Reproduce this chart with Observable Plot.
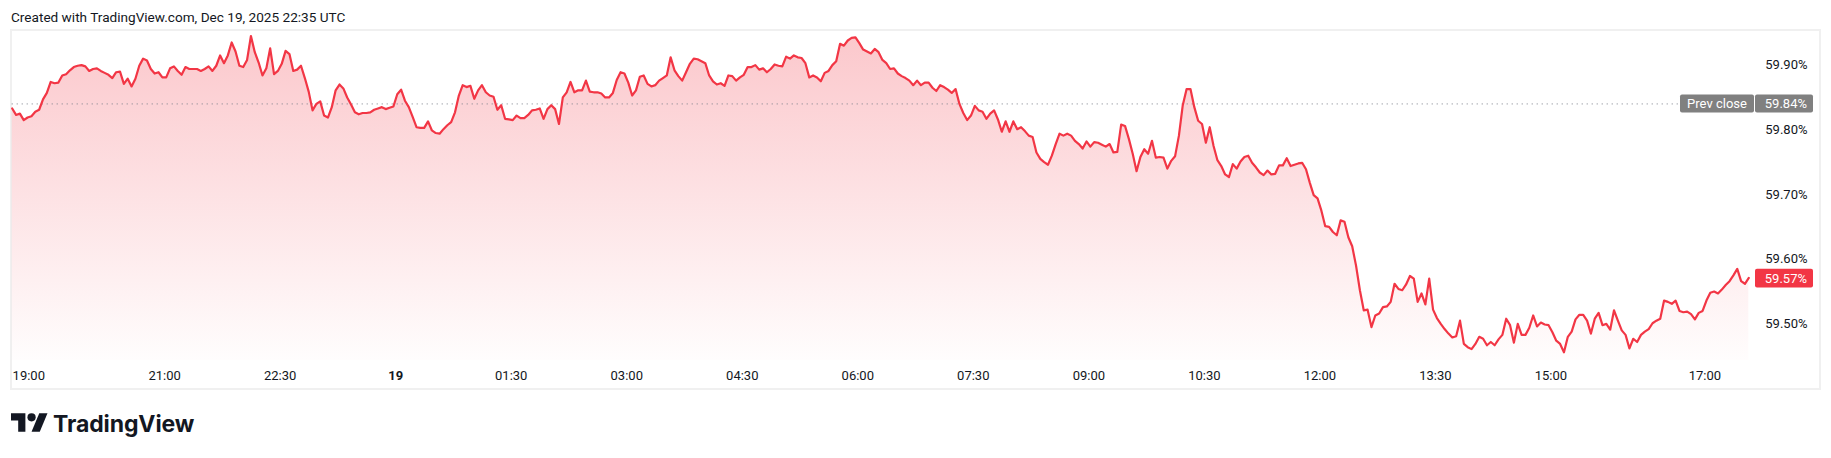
<!DOCTYPE html>
<html><head><meta charset="utf-8">
<script src="https://cdn.jsdelivr.net/npm/d3@7"></script>
<script src="https://cdn.jsdelivr.net/npm/@observablehq/plot@0.6"></script>
<style>
html,body{margin:0;padding:0;background:#fff;}
#wrap{position:relative;width:1831px;height:458px;overflow:hidden;font-family:Roboto,"Liberation Sans",sans-serif;color:#131722;}
#title{position:absolute;left:11px;top:7px;font-size:13.6px;line-height:20px;white-space:nowrap;}
#frame{position:absolute;left:10px;top:29px;width:1811px;height:361px;border:2px solid #f0f0f0;box-sizing:border-box;}
#chart{position:absolute;left:0;top:0;}
#logo{position:absolute;left:11px;top:409px;display:flex;align-items:center;}
#logo span{font-family:Inter,Roboto,sans-serif;font-weight:700;font-size:23px;margin-left:5px;letter-spacing:-0.1px;color:#131722;}
</style></head><body>
<div id="wrap">
 <div id="frame"></div>
 <div id="title">Created with TradingView.com, Dec 19, 2025 22:35 UTC</div>
 <div id="chart"></div>
 <div id="logo"><svg width="37" height="29" viewBox="0 0 36 28"><path d="M14 22H7V11H0V4h14v18Z" fill="#131722"/><circle cx="20" cy="8" r="4" fill="#131722"/><path d="M28 22h-8l7.5-18h8L28 22Z" fill="#131722"/></svg><span>TradingView</span></div>
</div>
<script>
// 3-minute samples, bar index 0..451
const values = [
59.833,59.823,59.825,59.815,59.819,59.821,59.828,59.831,59.847,59.857,
59.874,59.872,59.873,59.884,59.886,59.892,59.897,59.899,59.900,59.898,
59.891,59.894,59.895,59.891,59.888,59.885,59.880,59.889,59.890,59.871,
59.879,59.867,59.879,59.899,59.910,59.907,59.894,59.887,59.889,59.881,
59.881,59.895,59.898,59.891,59.885,59.897,59.894,59.894,59.894,59.891,
59.894,59.898,59.891,59.899,59.915,59.903,59.915,59.935,59.921,59.899,
59.897,59.908,59.945,59.920,59.904,59.884,59.895,59.926,59.886,59.891,
59.902,59.922,59.917,59.891,59.893,
59.899,59.880,59.859,59.830,59.840,59.844,59.822,59.819,59.835,59.861,
59.870,59.864,59.850,59.839,59.827,59.824,59.826,59.826,59.827,59.831,
59.833,59.835,59.832,59.834,59.836,59.855,59.862,59.845,59.835,59.820,
59.804,59.803,59.803,59.813,59.799,59.795,59.794,59.801,59.807,59.812,
59.827,59.853,59.869,59.866,59.868,59.848,59.861,59.869,59.858,59.853,
59.851,59.831,59.838,59.817,59.816,59.815,59.822,59.818,59.818,59.823,
59.830,59.831,59.833,59.817,59.832,59.838,59.832,59.809,59.850,59.858,
59.874,59.858,59.861,59.861,59.876,59.859,59.858,59.858,
59.856,59.850,59.850,59.857,59.877,59.889,59.887,59.873,59.853,59.861,
59.882,59.884,59.871,59.867,59.869,59.876,59.880,59.884,59.912,59.892,
59.883,59.876,59.889,59.902,59.910,59.909,59.906,59.903,59.884,59.875,
59.870,59.872,59.868,59.884,59.883,59.876,59.881,59.885,59.897,59.897,
59.900,59.893,59.895,59.889,59.894,59.901,59.899,59.898,59.913,59.910,
59.915,59.912,59.911,59.903,59.881,59.884,59.881,59.875,59.888,59.891,
59.900,59.906,59.933,59.930,59.938,59.942,59.943,59.934,59.924,59.921,
59.918,59.925,59.920,59.908,59.903,59.894,59.895,59.887,
59.883,59.880,59.876,59.869,59.876,59.869,59.873,59.873,59.865,59.860,
59.869,59.866,59.862,59.857,59.863,59.840,59.826,59.815,59.822,59.837,
59.830,59.828,59.817,59.825,59.830,59.816,59.797,59.813,59.797,59.813,
59.801,59.804,59.798,59.791,59.789,59.765,59.755,59.750,59.746,59.760,
59.778,59.794,59.791,59.794,59.791,59.783,59.778,59.771,59.782,59.774,
59.781,59.780,59.777,59.774,59.778,59.765,59.766,59.808,59.806,59.786,
59.763,59.736,59.758,59.770,59.763,59.783,59.757,59.758,59.757,59.740,
59.752,59.759,59.791,59.838,59.863,59.863,59.835,59.814,
59.809,59.780,59.804,59.775,59.753,59.744,59.731,59.727,59.747,59.740,
59.751,59.758,59.760,59.749,59.742,59.734,59.730,59.737,59.731,59.732,
59.745,59.745,59.756,59.744,59.746,59.748,59.749,59.739,59.718,59.699,
59.694,59.675,59.651,59.650,59.642,59.637,59.660,59.658,59.634,59.620,
59.590,59.552,59.521,59.522,59.495,59.513,59.516,59.526,59.527,59.534,
59.562,59.554,59.552,59.561,59.574,59.570,59.534,59.547,59.530,59.570,
59.522,59.509,59.500,59.492,59.485,59.479,59.481,59.505,59.469,59.464,
59.461,59.469,59.480,59.477,59.467,59.472,59.467,59.476,
59.483,59.508,59.498,59.471,59.500,59.483,59.483,59.494,59.513,59.496,
59.502,59.499,59.498,59.487,59.474,59.469,59.456,59.480,59.488,59.507,
59.514,59.514,59.505,59.485,59.508,59.517,59.498,59.500,59.491,59.521,
59.505,59.490,59.483,59.462,59.477,59.472,59.483,59.488,59.492,59.501,
59.505,59.508,59.536,59.534,59.531,59.536,59.520,59.518,59.519,59.515,
59.507,59.517,59.520,59.536,59.548,59.550,59.547,59.553,59.560,59.566,
59.575,59.585,59.566,59.562,59.571
];
const tickPositions = [4.3, 39.6, 69.6, 99.6, 129.6, 159.6, 189.6, 219.6, 249.6, 279.6, 309.6, 339.6, 369.6, 399.6, 439.6];
const tickLabels = ["19:00","21:00","22:30","19","01:30","03:00","04:30","06:00","07:30","09:00","10:30","12:00","13:30","15:00","17:00"];
const boldLabels = ["19"];
const yTicks = [59.5, 59.6, 59.7, 59.8, 59.9];
const prevClose = 59.84;
const lastValue = 59.57;
const yDomain = [59.4434, 59.9535];
const lineColor = "#f23645";

const data = values.map((v, i) => ({i, v}));
const ticks = tickPositions.map((p, k) => ({p, label: tickLabels[k], bold: boldLabels.includes(tickLabels[k])}));

function gradientDefs(index, scales) {
  const defs = d3.create("svg:defs");
  const g = defs.append("linearGradient").attr("id", "areaGrad")
    .attr("gradientUnits", "userSpaceOnUse")
    .attr("x1", 0).attr("x2", 0)
    .attr("y1", scales.y(yDomain[1])).attr("y2", scales.y(yDomain[0]));
  g.append("stop").attr("offset", 0).attr("stop-color", lineColor).attr("stop-opacity", 0.28);
  g.append("stop").attr("offset", 1).attr("stop-color", lineColor).attr("stop-opacity", 0.01);
  return defs.node();
}

function priceTags(index, scales, vals, dims) {
  const g = d3.create("svg:g").attr("font-size", 13).attr("font-family", "Roboto, sans-serif");
  const right = dims.width - dims.marginRight;
  const yp = scales.y(prevClose);
  g.append("rect").attr("x", right - 68.3).attr("y", yp - 9).attr("width", 74).attr("height", 18).attr("rx", 2).attr("fill", "#808080");
  g.append("text").attr("x", right - 31.3).attr("y", yp).attr("dy", "0.35em").attr("text-anchor", "middle").attr("fill", "#fff").text("Prev close");
  g.append("rect").attr("x", right + 6.7).attr("y", yp - 9).attr("width", 58).attr("height", 18).attr("rx", 2).attr("fill", "#808080");
  g.append("text").attr("x", right + 58.7).attr("y", yp).attr("dy", "0.35em").attr("text-anchor", "end").attr("fill", "#fff").text(prevClose.toFixed(2) + "%");
  const yl = scales.y(lastValue);
  g.append("rect").attr("x", right + 6.7).attr("y", yl - 9.3).attr("width", 58).attr("height", 18.6).attr("rx", 2).attr("fill", lineColor);
  g.append("text").attr("x", right + 58.7).attr("y", yl).attr("dy", "0.35em").attr("text-anchor", "end").attr("fill", "#fff").text(lastValue.toFixed(2) + "%");
  return g.node();
}

const chart = Plot.plot({
  width: 1831,
  height: 400,
  marginLeft: 11.7,
  marginRight: 82.7,
  marginTop: 30,
  marginBottom: 40,
  x: {domain: [0, values.length - 1], axis: null},
  y: {domain: yDomain, axis: null},
  style: {background: "transparent", overflow: "visible", fontFamily: "Roboto, sans-serif"},
  marks: [
    gradientDefs,
    Plot.areaY(data, {x: "i", y1: yDomain[0], y2: "v", fill: "url(#areaGrad)"}),
    Plot.ruleY([prevClose], {stroke: "#787b86", strokeWidth: 1, strokeDasharray: "1,4"}),
    Plot.lineY(data, {x: "i", y: "v", stroke: lineColor, strokeWidth: 2.2, strokeLinejoin: "round"}),
    Plot.text(yTicks, {y: d => d, text: d => d.toFixed(2) + "%", frameAnchor: "right", textAnchor: "end", dx: 58.7, fontSize: 13, fill: "#131722"}),
    Plot.text(ticks.filter(d => !d.bold), {x: "p", text: "label", frameAnchor: "bottom", dy: 15, lineAnchor: "middle", fontSize: 13, fill: "#131722"}),
    Plot.text(ticks.filter(d => d.bold), {x: "p", text: "label", frameAnchor: "bottom", dy: 15, lineAnchor: "middle", fontSize: 13, fontWeight: "bold", fill: "#131722"}),
    priceTags
  ]
});
document.getElementById("chart").appendChild(chart);
</script>
</body></html>
